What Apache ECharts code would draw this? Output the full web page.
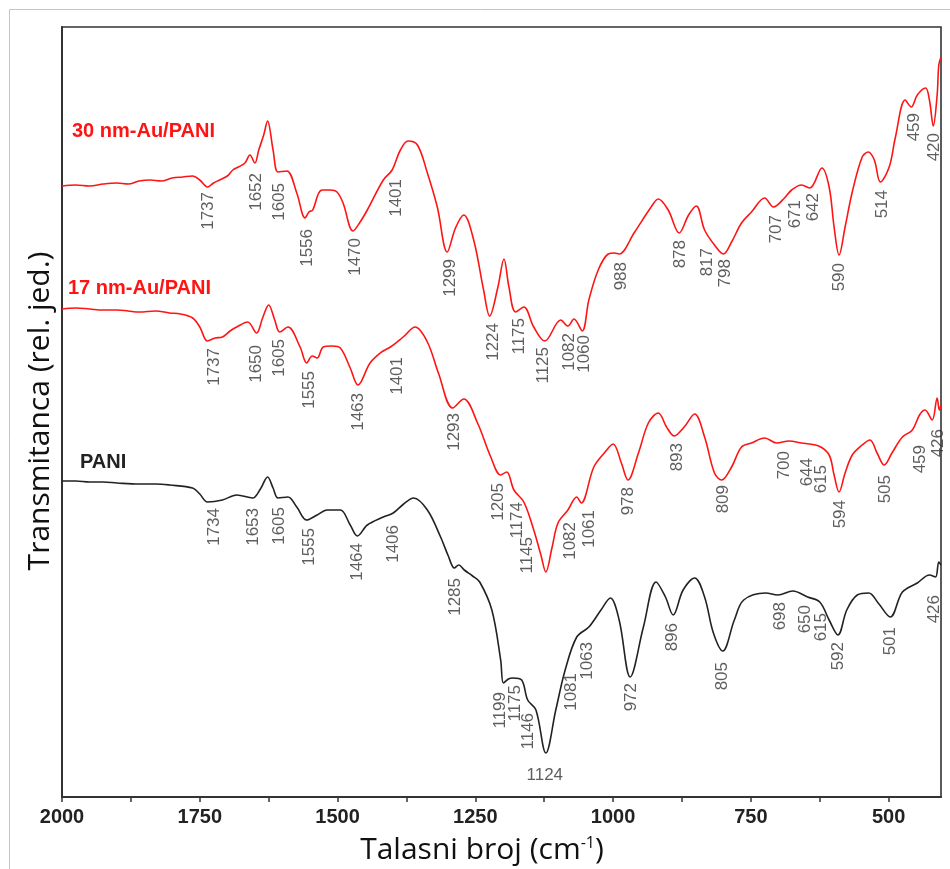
<!DOCTYPE html>
<html><head><meta charset="utf-8">
<script src="https://cdn.jsdelivr.net/npm/echarts@6/dist/echarts.min.js"></script>
<style>html,body{margin:0;padding:0;background:#fff}#c{width:950px;height:869px}</style>
</head><body><div id="c"></div>
<script>
// x: wavenumber (cm-1), y: transmittance (relative units, arbitrary offset)
const au30 = [[2000,606],[1975,607],[1950,606],[1925,608],[1900,609],[1880,608],[1860,611],[1840,612],[1820,611],[1800,614],[1781,615],[1763,616],[1750,612],[1736,605],[1725,609],[1714,612],[1700,616],[1690,622],[1680,625],[1668,629],[1659,637],[1650,629],[1643,642],[1634,657],[1627,671],[1617,642],[1608,620],[1592,621],[1574,599],[1559,574],[1552,580],[1545,582],[1535,598],[1528,602],[1514,602],[1501,600],[1490,589],[1472,561],[1459,570],[1446,582],[1417,612],[1401,622],[1386,642],[1372,651],[1355,647],[1337,619],[1319,585],[1301,540],[1286,564],[1271,577],[1253,552],[1235,502],[1224,476],[1209,505],[1198,533],[1189,505],[1177,480],[1162,485],[1144,465],[1124,451],[1095,472],[1082,466],[1071,473],[1056,461],[1044,492],[1027,522],[1009,538],[998,539],[989,538],[962,559],[931,585],[918,593],[900,582],[880,559],[863,577],[849,586],[834,562],[816,547],[800,538],[785,550],[767,569],[749,580],[725,594],[709,585],[689,594],[676,602],[658,607],[643,604],[621,624],[608,605],[599,565],[590,537],[579,565],[566,600],[548,635],[537,640],[526,632],[515,610],[499,625],[488,654],[470,692],[459,685],[448,697],[433,704],[426,692],[419,666],[412,697],[409,727],[405,735]];
const au17 = [[2000,483],[1975,484],[1950,483],[1925,482],[1900,482],[1880,481],[1860,480],[1830,481],[1805,479],[1785,478],[1763,474],[1750,465],[1736,451],[1722,454],[1709,455],[1695,461],[1683,465],[1663,470],[1647,459],[1636,474],[1625,487],[1614,472],[1605,460],[1590,465],[1568,445],[1556,429],[1546,436],[1537,434],[1526,445],[1510,446],[1495,444],[1477,424],[1463,407],[1441,429],[1420,440],[1404,445],[1381,455],[1359,465],[1337,450],[1317,419],[1291,384],[1271,393],[1246,369],[1222,335],[1204,317],[1193,320],[1180,302],[1162,290],[1144,262],[1131,237],[1122,220],[1111,244],[1100,269],[1082,282],[1066,295],[1058,289],[1035,325],[1016,339],[1000,348],[985,329],[973,312],[954,339],[936,369],[918,379],[903,365],[889,356],[871,365],[852,378],[834,355],[816,319],[803,312],[785,325],[767,345],[749,349],[725,354],[703,349],[681,351],[658,349],[627,346],[608,337],[599,317],[590,300],[579,319],[566,337],[548,347],[534,352],[521,339],[508,327],[494,339],[475,355],[457,362],[444,377],[434,382],[421,372],[412,394],[408,382],[405,387]];
const pani = [[2000,311],[1975,311],[1950,310],[1925,310],[1900,309],[1860,308],[1830,308],[1805,307],[1763,304],[1750,298],[1736,290],[1709,292],[1683,297],[1654,294],[1640,303],[1627,315],[1617,304],[1608,294],[1590,295],[1574,285],[1556,272],[1537,277],[1519,282],[1495,282],[1477,267],[1464,256],[1446,267],[1417,275],[1399,279],[1380,288],[1362,294],[1337,282],[1313,255],[1299,236],[1288,224],[1280,227],[1270,222],[1255,216],[1242,210],[1220,182],[1204,132],[1199,109],[1190,113],[1182,114],[1166,112],[1155,92],[1140,82],[1122,39],[1104,82],[1087,122],[1066,155],[1044,165],[1022,182],[1005,194],[989,172],[969,115],[945,165],[922,210],[905,195],[891,177],[873,202],[852,214],[834,195],[818,159],[801,141],[780,172],[763,192],[723,199],[701,197],[674,201],[647,195],[625,190],[608,172],[592,157],[576,182],[557,197],[536,199],[519,189],[497,175],[475,200],[448,209],[426,217],[415,215],[409,230],[405,227]];

// peak annotations: [x position, y of label top, text]
const peaks30 = [[1734,600,'1737'],[1647,619,'1652'],[1605,609,'1605'],[1554,563,'1556'],[1468,554,'1470'],[1393,613,'1401'],[1295,533,'1299'],[1217,469,'1224'],[1171,474,'1175'],[1127,445,'1125'],[1080,459,'1082'],[1053,457,'1060'],[985,530,'988'],[878,552,'878'],[829,544,'817'],[796,533,'798'],[703,577,'707'],[670,592,'671'],[636,599,'642'],[590,529,'590'],[512,602,'514'],[454,679,'459'],[417,659,'420']];
const peaks17 = [[1723,444,'1737'],[1648,447,'1650'],[1605,453,'1605'],[1552,421,'1555'],[1463,399,'1463'],[1392,435,'1401'],[1288,379,'1293'],[1208,309,'1205'],[1173,290,'1174'],[1155,255,'1145'],[1078,270,'1082'],[1044,282,'1061'],[973,305,'978'],[883,349,'893'],[800,307,'809'],[689,341,'700'],[648,334,'644'],[623,327,'615'],[588,292,'594'],[506,317,'505'],[443,347,'459'],[410,363,'426']];
const peaksPani = [[1723,284,'1734'],[1652,284,'1653'],[1605,285,'1605'],[1552,264,'1555'],[1464,249,'1464'],[1399,267,'1406'],[1286,214,'1285'],[1204,100,'1199'],[1177,107,'1175'],[1153,79,'1146'],[1076,119,'1081'],[1046,150,'1063'],[967,109,'972'],[893,169,'896'],[801,130,'805'],[696,190,'698'],[652,187,'650'],[623,179,'615'],[592,150,'592'],[497,165,'501'],[417,197,'426']];
const peaksPaniFlat = [[1124,25,'1124']];

const xTicks = [500,625,750,875,1000,1125,1250,1375,1500,1625,1750,1875,2000];
const xLabels = [500,750,1000,1250,1500,1750,2000];
const seriesNames = ['30 nm-Au/PANI','17 nm-Au/PANI','PANI'];

const RED = '#ff1414', BLACK = '#222';
function lineSeries(name, data, color){
  return {name, type:'line', data, showSymbol:false, symbol:'none', smooth:0.35,
    lineStyle:{color, width:1.6}, silent:true, z:3};
}
function peakSeries(data, rotate){
  return {type:'scatter', data, symbolSize:0, silent:true, z:4,
    label:{show:true, position:'inside', rotate: rotate ? 90 : 0,
      align: rotate ? 'right' : 'center', verticalAlign: rotate ? 'middle' : 'top',
      formatter:p=>p.value[2], color:'#363636', fontSize:17, fontFamily:'Liberation Sans'}};
}

const chart = echarts.init(document.getElementById('c'), null, {renderer:'canvas'});
chart.setOption({
  animation:false,
  backgroundColor:'#fff',
  grid:{left:62, right:9, top:27, bottom:72, show:true, borderColor:'#333', borderWidth:1.6},
  xAxis:{type:'value', inverse:true, min:405, max:2000,
    axisLine:{show:true, onZero:false, lineStyle:{color:'#333', width:2}},
    axisTick:{show:true, customValues:xTicks, length:5, lineStyle:{color:'#333', width:1.5}},
    axisLabel:{customValues:xLabels, margin:10, color:'#222', fontSize:20, fontWeight:'bold', fontFamily:'Liberation Sans',
      formatter:v=>String(v)},
    splitLine:{show:false}},
  yAxis:{type:'value', min:-5, max:765,
    axisLine:{show:true, lineStyle:{color:'#333', width:2}},
    axisTick:{show:false}, axisLabel:{show:false}, splitLine:{show:false}},
  series:[
    lineSeries(seriesNames[0], au30, RED),
    lineSeries(seriesNames[1], au17, RED),
    lineSeries(seriesNames[2], pani, BLACK),
    peakSeries(peaks30, true),
    peakSeries(peaks17, true),
    peakSeries(peaksPani, true),
    peakSeries(peaksPaniFlat, false)
  ],
  graphic:[
    {type:'rect', shape:{x:9.5, y:9.5, width:1000, height:1000}, style:{fill:'none', stroke:'#c4c4c4', lineWidth:1}, silent:true},
    {type:'text', left:72, top:121, style:{text:seriesNames[0], fill:RED, font:'bold 20px "Liberation Sans"'}},
    {type:'text', left:68, top:278, style:{text:seriesNames[1], fill:RED, font:'bold 20px "Liberation Sans"'}},
    {type:'text', left:80, top:452, style:{text:seriesNames[2], fill:BLACK, font:'bold 20px "Liberation Sans"'}},
    {type:'text', x:40, y:411, rotation:Math.PI/2, style:{text:'Transmitanca (rel. jed.)', fill:'#111', font:'30px "Open Sans"', align:'center', verticalAlign:'middle'}},
    {type:'text', x:482, y:850, style:{text:'{a|Talasni broj (cm}{s|-1}{a|)}', align:'center', verticalAlign:'middle',
      rich:{a:{fontSize:30, fontFamily:'Open Sans', fill:'#111', color:'#111'}, s:{fontSize:16, fontFamily:'Open Sans', color:'#111', fill:'#111', padding:[0,0,14,0]}}}}
  ]
});
</script></body></html>
